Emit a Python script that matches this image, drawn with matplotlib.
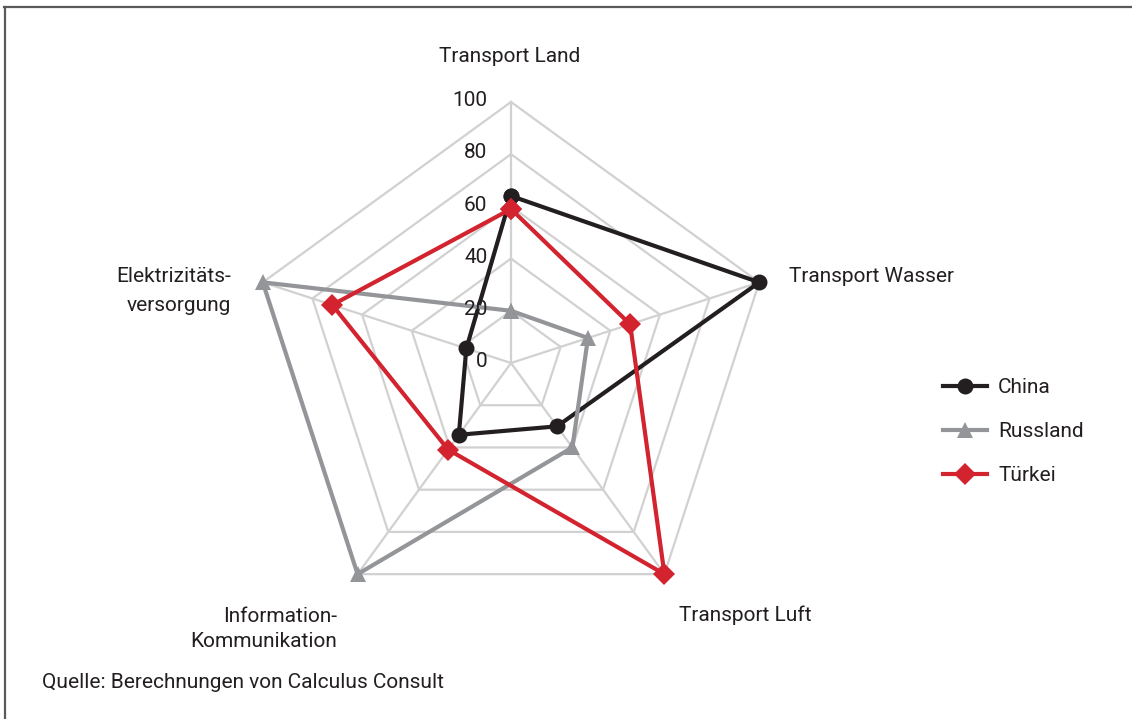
import numpy as np
import matplotlib
matplotlib.use("Agg")
import matplotlib.pyplot as plt
from matplotlib.lines import Line2D

plt.rcParams['font.family'] = ['Roboto', 'DejaVu Sans']

categories = ["Transport Land", "Transport Wasser", "Transport Luft",
              "Information-\nKommunikation", "Elektrizitäts-\nversorgung"]
series_names = ["China", "Russland", "Türkei"]
china = [64, 100, 30, 34, 18]
russland = [20, 31, 40, 100, 100]
tuerkei = [59, 48, 100, 41, 72]
tick_values = [0, 20, 40, 60, 80, 100]
source_text = "Quelle: Berechnungen von Calculus Consult"

TXT = '#231f20'
GRID = '#d1d1d1'
colors = ['#231f20', '#939598', '#d2232f']
markers = ['o', '^', 'D']
msizes = [11.5, 11.5, 11]

W, H = 1132, 719
fig = plt.figure(figsize=(W / 100, H / 100), dpi=100)
cx, cy, R = 511, 363, 261
ax = fig.add_axes([(cx - R) / W, (H - cy - R) / H, 2 * R / W, 2 * R / H],
                  projection='polar')
ax.set_theta_offset(np.pi / 2)
ax.set_theta_direction(-1)
ax.set_ylim(0, 100)
ax.grid(False)
ax.spines['polar'].set_visible(False)
ax.set_xticks([])
ax.set_yticks([])
ax.patch.set_alpha(0)

n = len(categories)
angles = np.arange(n) * 2 * np.pi / n
closed = np.append(angles, angles[0])

# grid rings and spokes
for v in tick_values[1:]:
    ax.plot(closed, [v] * (n + 1), color=GRID, lw=1.6, zorder=1, clip_on=False)
for a in angles:
    ax.plot([a, a], [0, 100], color=GRID, lw=1.6, zorder=1, clip_on=False)

# tick labels
for v in tick_values:
    ax.annotate(str(v), xy=(0, v), xytext=(-17, 1), textcoords='offset points',
                ha='right', va='center', fontsize=15, color=TXT, zorder=5)

# series
for name, vals, c, m, ms in zip(series_names, [china, russland, tuerkei],
                                colors, markers, msizes):
    ax.plot(closed, list(vals) + [vals[0]], color=c, lw=3, marker=m,
            markersize=ms, markeredgewidth=0, label=name, zorder=3,
            clip_on=False)

# category labels (figure pixel positions)
def ftext(x, y, s, **kw):
    fig.text(x / W, 1 - y / H, s, fontsize=15, color=TXT, **kw)

ftext(510, 56, categories[0], ha='center', va='center')
ftext(789, 277, categories[1], ha='left', va='center')
ftext(745, 615, categories[2], ha='center', va='center')
ftext(337, 629, categories[3], ha='right', va='center', multialignment='right',
      linespacing=1.45)
ftext(231, 291, categories[4], ha='right', va='center', multialignment='right',
      linespacing=1.65)
ftext(42, 682, source_text, ha='left', va='center')

leg = ax.legend(loc='upper left', bbox_to_anchor=(943 / W, 1 - 378 / H),
                bbox_transform=fig.transFigure, frameon=False, fontsize=15,
                handlelength=2.1, handletextpad=0.55, labelspacing=1.2,
                borderpad=0, borderaxespad=0)
for t in leg.get_texts():
    t.set_color(TXT)

# frame lines (top and left)
fig.add_artist(Line2D([4 / W, 1], [1 - 6.5 / H, 1 - 6.5 / H],
                      transform=fig.transFigure, color='#5a5a5a', lw=1.6))
fig.add_artist(Line2D([4.5 / W, 4.5 / W], [0, 1 - 6.5 / H],
                      transform=fig.transFigure, color='#5a5a5a', lw=1.6))

fig.savefig('out.png', dpi=100, facecolor='white')
